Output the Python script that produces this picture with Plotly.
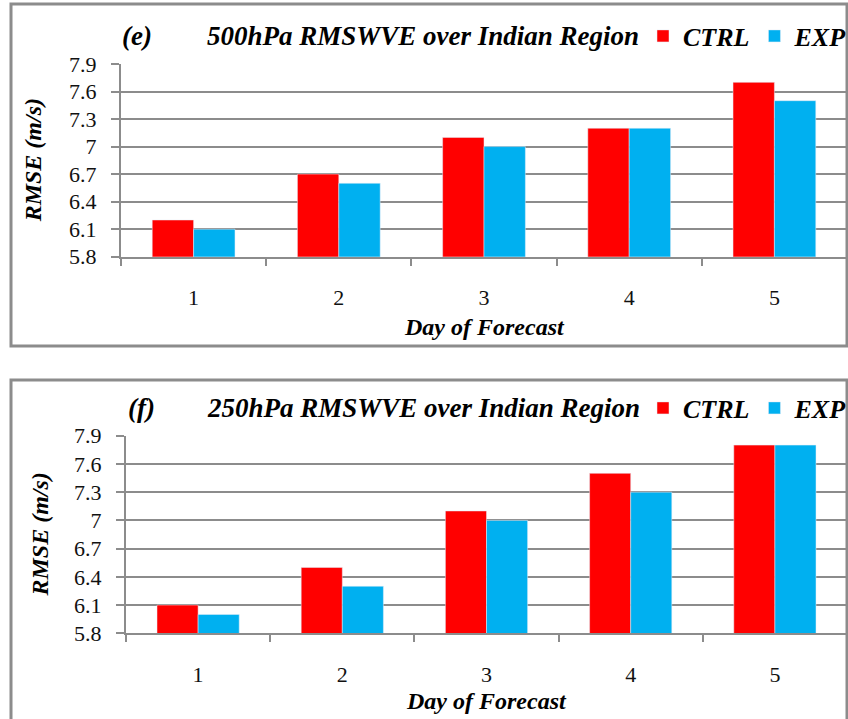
import plotly.graph_objects as go

# ---- data ----
days = ["1", "2", "3", "4", "5"]
ctrl_500 = [6.2, 6.7, 7.1, 7.2, 7.7]
exp_500 = [6.1, 6.6, 7.0, 7.2, 7.5]
ctrl_250 = [6.1, 6.5, 7.1, 7.5, 7.8]
exp_250 = [6.0, 6.3, 7.0, 7.3, 7.8]
y_tickvals = [5.8, 6.1, 6.4, 6.7, 7.0, 7.3, 7.6, 7.9]
y_ticktext = ["5.8", "6.1", "6.4", "6.7", "7", "7.3", "7.6", "7.9"]
series_names = ["CTRL", "EXP"]
titles = ["500hPa RMSWVE over Indian Region", "250hPa RMSWVE over Indian Region"]
panel_labels = ["(e)", "(f)"]
x_title = "Day of Forecast"
y_title = "RMSE (m/s)"

W, H = 848, 719
RED = "#FF0000"
BLUE = "#00B0F0"
GRID = "#8c8c8c"
FONT = "Liberation Serif, Times New Roman, serif"


def px(x):
    return x / W


def py(y):
    return 1 - y / H


fig = go.Figure()
fig.add_trace(go.Bar(x=days, y=ctrl_500, name=series_names[0], marker_color=RED,
                     xaxis="x", yaxis="y", legend="legend"))
fig.add_trace(go.Bar(x=days, y=exp_500, name=series_names[1], marker_color=BLUE,
                     xaxis="x", yaxis="y", legend="legend"))
fig.add_trace(go.Bar(x=days, y=ctrl_250, name=series_names[0], marker_color=RED,
                     xaxis="x2", yaxis="y2", legend="legend2"))
fig.add_trace(go.Bar(x=days, y=exp_250, name=series_names[1], marker_color=BLUE,
                     xaxis="x2", yaxis="y2", legend="legend2"))

tickfont = dict(family=FONT, size=22, color="#111111")


def xaxis(dom, anchor):
    return dict(domain=dom, anchor=anchor, type="category", showline=True,
                linecolor=GRID, linewidth=2, ticks="outside", tickson="boundaries",
                ticklen=7, tickwidth=2, tickcolor=GRID, showgrid=False,
                tickfont=tickfont, ticklabelstandoff=20, fixedrange=True,
                automargin=False)


def yaxis(dom, anchor):
    return dict(domain=dom, anchor=anchor, range=[5.8, 7.9], tickvals=y_tickvals,
                ticktext=y_ticktext, showline=True, linecolor=GRID, linewidth=2,
                ticks="outside", ticklen=8, tickwidth=2, tickcolor=GRID,
                showgrid=True, gridcolor=GRID, gridwidth=2, zeroline=False,
                tickfont=tickfont, ticklabelstandoff=10, fixedrange=True,
                automargin=False)


title_font = dict(family=FONT, size=27, color="black", style="italic", weight="bold")
legend_font = dict(family=FONT, size=26, color="black", style="italic", weight="bold")
axis_title_font = dict(family=FONT, size=24, color="black", style="italic", weight="bold")

legend_common = dict(orientation="h", xanchor="right", yanchor="middle",
                     bgcolor="rgba(0,0,0,0)", font=legend_font, itemclick=False,
                     traceorder="normal", tracegroupgap=0)

annotations = []
# panel geometry: (x0, x1, ytop, ybot, title_y, xtitle_y, ytitle_x)
panels = [
    (121, 847, 64, 256.7, 36, 327, 33),
    (126, 847, 435.7, 633.3, 408, 701, 39),
]
for i, (x0, x1, yt, yb, ty, xty, ytx) in enumerate(panels):
    annotations.append(dict(text=panel_labels[i], x=px(137 + 4 * i), y=py(ty), xref="paper",
                            yref="paper", showarrow=False, font=title_font,
                            xanchor="center", yanchor="middle"))
    annotations.append(dict(text=titles[i], x=px(205), y=py(ty), xref="paper",
                            yref="paper", showarrow=False, font=title_font,
                            xanchor="left", yanchor="middle"))
    annotations.append(dict(text=x_title, x=px((x0 + x1) / 2), y=py(xty), xref="paper",
                            yref="paper", showarrow=False, font=axis_title_font,
                            xanchor="center", yanchor="middle"))
    annotations.append(dict(text=y_title, x=px(ytx), y=py((yt + yb) / 2), xref="paper",
                            yref="paper", showarrow=False, font=axis_title_font,
                            textangle=-90, xanchor="center", yanchor="middle"))

shapes = [
    dict(type="rect", xref="paper", yref="paper", x0=px(11), x1=px(847),
         y0=py(346), y1=py(4), line=dict(color=GRID, width=3)),
    dict(type="rect", xref="paper", yref="paper", x0=px(11), x1=px(847),
         y0=py(723), y1=py(380), line=dict(color=GRID, width=3)),
]

fig.update_layout(
    width=W, height=H, margin=dict(l=0, r=0, t=0, b=0, autoexpand=False),
    paper_bgcolor="white", plot_bgcolor="white",
    barmode="group", bargap=0.43, bargroupgap=0,
    xaxis=xaxis([px(121), px(847)], "y"),
    yaxis=yaxis([py(256.7), py(64)], "x"),
    xaxis2=xaxis([px(126), px(847)], "y2"),
    yaxis2=yaxis([py(633.3), py(435.7)], "x2"),
    legend=dict(x=px(853), y=py(36), **legend_common),
    legend2=dict(x=px(853), y=py(408), **legend_common),
    annotations=annotations, shapes=shapes,
    showlegend=True,
)

fig.write_html("out.html")
